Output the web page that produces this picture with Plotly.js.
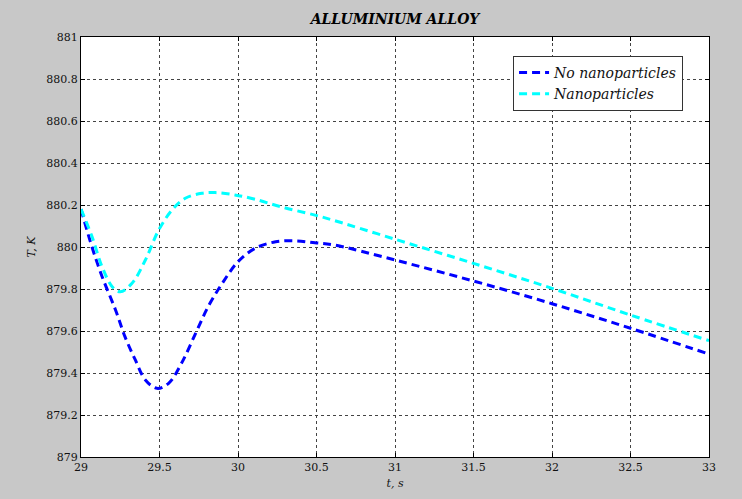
<!DOCTYPE html>
<html>
<head>
<meta charset="utf-8">
<script src="https://cdn.plot.ly/plotly-3.0.1.min.js"></script>
<style>html,body{margin:0;padding:0;background:#c8c8c8;}#chart{width:742px;height:499px;}</style>
</head>
<body>
<div id="chart"></div>
<script>
const tNo = [29.0, 29.07, 29.134, 29.22, 29.28, 29.346, 29.41, 29.484, 29.558, 29.64, 29.73, 29.81, 29.9, 30.0, 30.11, 30.24, 30.37, 30.49, 30.61, 31.0, 31.5, 32.0, 32.5, 33.0];
const TNo = [880.18, 880.0, 879.86, 879.70, 879.573, 879.462, 879.367, 879.327, 879.351, 879.446, 879.589, 879.716, 879.827, 879.93, 879.994, 880.025, 880.029, 880.02, 880.01, 879.938, 879.838, 879.73, 879.613, 879.49];
const tNano = [29.0, 29.07, 29.134, 29.2, 29.25, 29.325, 29.41, 29.495, 29.58, 29.664, 29.77, 29.855, 29.98, 30.11, 30.28, 30.49, 30.6, 31.0, 31.5, 32.0, 32.5, 33.0];
const TNano = [880.18, 880.05, 879.906, 879.81, 879.787, 879.827, 879.938, 880.081, 880.176, 880.232, 880.256, 880.259, 880.248, 880.227, 880.19, 880.152, 880.129, 880.037, 879.922, 879.803, 879.676, 879.554];
const xTicks = [29, 29.5, 30, 30.5, 31, 31.5, 32, 32.5, 33];
const yTicks = [879, 879.2, 879.4, 879.6, 879.8, 880, 880.2, 880.4, 880.6, 880.8, 881];
const serif = "DejaVu Serif";

const traces = [
  {x: tNo, y: TNo, mode: 'lines', name: '<i>No nanoparticles</i>', line: {color: '#0000ff', width: 3, dash: '8px,5px', shape: 'spline'}},
  {x: tNano, y: TNano, mode: 'lines', name: '<i>Nanoparticles</i>', line: {color: '#00ffff', width: 3, dash: '8px,5px', shape: 'spline'}}
];
const axisCommon = {
  showline: true, linecolor: '#000', linewidth: 1, mirror: 'ticks',
  ticks: 'inside', ticklen: 4, tickcolor: '#000',
  showgrid: true, gridcolor: '#444', griddash: 'dot', gridwidth: 1,
  zeroline: false, tickfont: {family: serif, size: 11, color: '#111'}
};
const layout = {
  width: 742, height: 499,
  paper_bgcolor: '#c8c8c8', plot_bgcolor: '#ffffff',
  font: {family: serif},
  margin: {l: 81, r: 33, t: 37, b: 42},
  title: {text: '<b><i>ALLUMINIUM ALLOY</i></b>', font: {family: serif, size: 14, color: '#000'}, x: 0.5 + (81-33)/2/742, xanchor: 'center', y: 0.962, yanchor: 'middle'},
  xaxis: Object.assign({}, axisCommon, {range: [29, 33], tickvals: xTicks, ticktext: xTicks.map(String),
    title: {text: '<i>t, s</i>', font: {family: serif, size: 11, color: '#111'}, standoff: 6}}),
  yaxis: Object.assign({}, axisCommon, {range: [879, 881], tickvals: yTicks, ticktext: yTicks.map(v => String(Math.round(v*10)/10)),
    title: {text: '<i>T, K</i>', font: {family: serif, size: 11, color: '#111'}, standoff: 8}}),
  legend: {x: 0.688, y: 0.955, xanchor: 'left', yanchor: 'top', bgcolor: '#fff', bordercolor: '#333', borderwidth: 1,
    font: {family: serif, size: 14, color: '#111'}, tracegroupgap: 0, itemwidth: 30},
  showlegend: true
};
Plotly.newPlot('chart', traces, layout, {staticPlot: true, displayModeBar: false});
</script>
</body>
</html>
